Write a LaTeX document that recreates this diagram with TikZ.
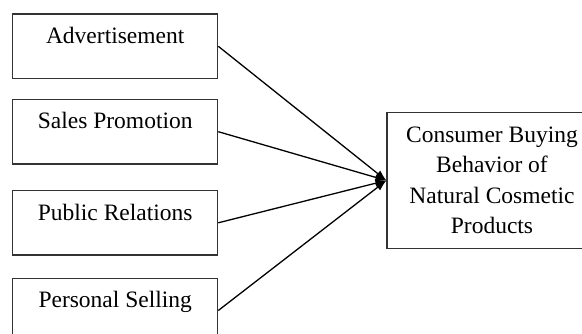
\documentclass[tikz,border=0pt]{standalone}
\usepackage{fontspec}
\setmainfont{Liberation Serif}
\usepackage{tikz}
\usetikzlibrary{arrows.meta, positioning}
\tikzstyle{factor} = [rectangle, draw=black!80, line width=1.2pt, minimum width=205pt, text height=29.5pt, text depth=35pt, inner sep=0pt, text centered, font=\fontsize{23.5}{30}\selectfont]
\tikzstyle{outcome} = [rectangle, draw=black!80, line width=1.2pt, minimum width=210pt, minimum height=135.5pt, align=center, font=\fontsize{23.5}{30.5}\selectfont]
\tikzstyle{arrow} = [line width=1.3pt, -{Latex[length=11pt, width=8pt]}]

\begin{document}
\begin{tikzpicture}[x=1pt, y=-1pt]
    \path[use as bounding box, clip] (0,0) rectangle (582,334);

    % Promotion mix
    \node[factor] (adv) at (115.2, 46.3) {Advertisement};
    \node[factor] (sp) at (115.2, 131.7) {Sales Promotion};
    \node[factor] (pr) at (115.2, 222.8) {Public Relations};
    \node[factor] (ps) at (115.2, 310.5) {Personal Selling};

    % Buying behavior
    \node[outcome] (cbb) at (492, 180.5) {Consumer Buying\\Behavior of\\Natural Cosmetic\\Products};

    % Arrows
    \draw[arrow] (adv.east) -- (cbb.west);
    \draw[arrow] (sp.east) -- (cbb.west);
    \draw[arrow] (pr.east) -- (cbb.west);
    \draw[arrow] (ps.east) -- (cbb.west);
\end{tikzpicture}
\end{document}
